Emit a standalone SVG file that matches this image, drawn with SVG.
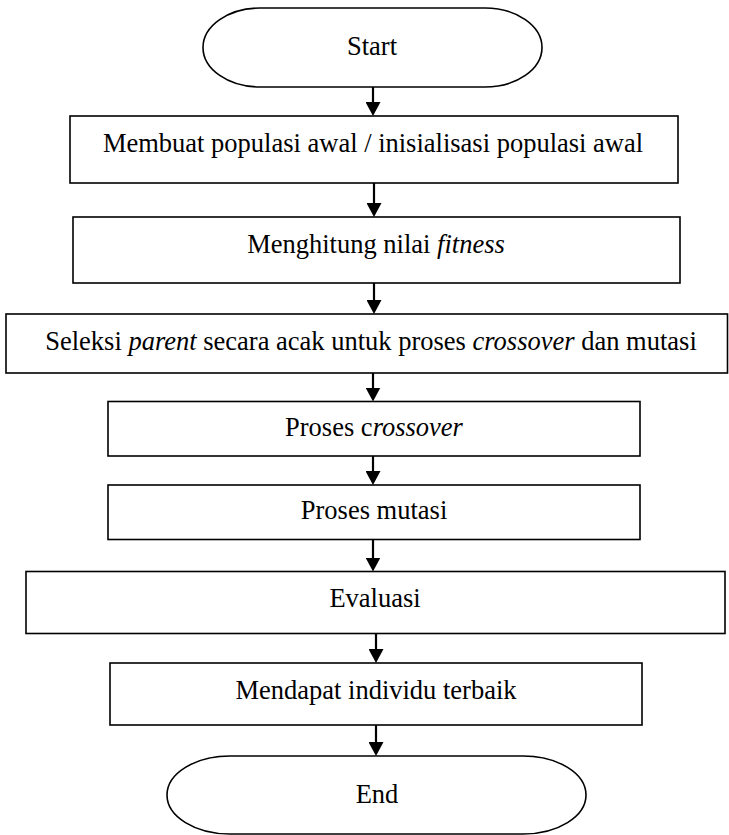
<svg xmlns="http://www.w3.org/2000/svg" width="729" height="835" viewBox="0 0 729 835">
<defs>
<style>
.box{fill:#fff;stroke:#000;stroke-width:1.6}
.t{font-family:"Liberation Serif","Times New Roman",serif;font-size:26.5px;fill:#000;text-anchor:middle}
.i{font-style:italic}
.c line{stroke:#000;stroke-width:2.2}
</style>
<marker id="ah" markerWidth="14" markerHeight="15" refX="4" refY="7.5" orient="auto" markerUnits="userSpaceOnUse">
<path d="M0,0 L14,7.5 L0,15 Z" fill="#000"/>
</marker>
</defs>
<rect width="729" height="835" fill="#fff"/>
<g id="start">
<path class="box" d="M260 8 H485 A57 39.5 0 0 1 485 87 H260 A57 39.5 0 0 1 260 8 Z"/>
<text class="t" x="372" y="55">Start</text>
</g>
<g id="n1">
<rect class="box" x="70" y="116" width="608" height="67"/>
<text class="t" x="373" y="152">Membuat populasi awal / inisialisasi populasi awal</text>
</g>
<g id="n2">
<rect class="box" x="73" y="217" width="607" height="66"/>
<text class="t" x="376" y="253">Menghitung nilai <tspan class="i">fitness</tspan></text>
</g>
<g id="n3">
<rect class="box" x="6" y="314" width="721.5" height="59"/>
<text class="t" x="371" y="350">Seleksi <tspan class="i">parent</tspan> secara acak untuk proses <tspan class="i">crossover</tspan> dan mutasi</text>
</g>
<g id="n4">
<rect class="box" x="108" y="401.5" width="532" height="54.5"/>
<text class="t" x="374" y="435.5">Proses c<tspan class="i">rossover</tspan></text>
</g>
<g id="n5">
<rect class="box" x="108" y="485" width="532" height="54.5"/>
<text class="t" x="374" y="518.5">Proses mutasi</text>
</g>
<g id="n6">
<rect class="box" x="26" y="571.5" width="699" height="62"/>
<text class="t" x="375" y="607">Evaluasi</text>
</g>
<g id="n7">
<rect class="box" x="110" y="663" width="532" height="62"/>
<text class="t" x="376" y="699">Mendapat individu terbaik</text>
</g>
<g id="end">
<path class="box" d="M230 756 H523 A63 39 0 0 1 523 834 H230 A63 39 0 0 1 230 756 Z"/>
<text class="t" x="377" y="803">End</text>
</g>
<g id="connectors" class="c">
<line x1="373" y1="87" x2="373" y2="106" marker-end="url(#ah)"/>
<line x1="374" y1="183" x2="374" y2="207" marker-end="url(#ah)"/>
<line x1="374" y1="283" x2="374" y2="304" marker-end="url(#ah)"/>
<line x1="373" y1="373" x2="373" y2="391.5" marker-end="url(#ah)"/>
<line x1="373" y1="456" x2="373" y2="475" marker-end="url(#ah)"/>
<line x1="373" y1="539.5" x2="373" y2="561.5" marker-end="url(#ah)"/>
<line x1="376" y1="633.5" x2="376" y2="653" marker-end="url(#ah)"/>
<line x1="376" y1="725" x2="376" y2="746" marker-end="url(#ah)"/>
</g>
</svg>
